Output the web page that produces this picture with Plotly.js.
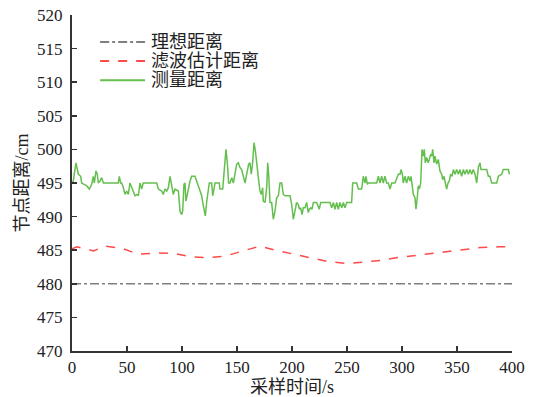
<!DOCTYPE html>
<html>
<head>
<meta charset="utf-8">
<script src="https://cdn.plot.ly/plotly-3.0.1.min.js"></script>
<style>
  html, body { margin: 0; padding: 0; background: #fff; }
  #chart { width: 540px; height: 397px; }
</style>
</head>
<body>
<div id="chart"></div>
<script>
// Series names
const seriesNames = ['理想距离', '滤波估计距离', '测量距离'];

// Ideal distance (constant)
const idealT = [0, 400];
const idealD = [480, 480];

// Kalman-filtered estimate
const filtT = [0, 4.5, 12, 19.6, 30, 45, 60, 78, 93.5, 109, 124, 139, 155.6, 170.8, 185, 196.5, 217.7, 232.8, 250.9, 266, 281, 296, 311, 326.5, 341.7, 356.8, 372, 388, 398];
const filtD = [485.2, 485.5, 485.2, 484.9, 485.6, 485.3, 484.4, 484.6, 484.5, 484.0, 483.9, 484.1, 484.9, 485.6, 485.0, 484.6, 483.8, 483.3, 483.0, 483.2, 483.5, 483.9, 484.2, 484.6, 484.9, 485.1, 485.4, 485.5, 485.5];

// Raw measured distance
const measT = [
  0, 1.2, 3.6, 5.8, 7.9, 8.8, 10.9, 13.3, 15.8, 17.9, 19.4, 20.3, 21.8, 23, 23.9, 25.5, 27, 28.5,
  42.1, 43, 44.2, 45.2, 46.7, 48.2, 49.7, 51.2, 52.7, 54.2, 55.8, 57.3, 58.8, 60.3, 61.8, 63.3, 64.8,
  77, 78.5, 81.5, 83, 84.5, 86.1, 87.6, 89.1, 90.6, 92.1, 93.6, 95.8, 96.7, 97.6, 98.2, 99.7, 100.6,
  101.8, 102.7, 103.6, 104.8, 105.8, 107.3, 108.8, 111.8, 113.3, 114.8, 116.4, 117.9, 118.8, 120.3,
  121.2, 122.4, 123.9, 124.8, 127, 127.9, 129.1, 130, 133.9, 134.5, 137, 138.2, 140, 141.2, 142.4,
  143.6, 145.2, 146.7, 148.2, 149.7, 151.2, 152.7, 154.2, 155.8, 157.3, 158.2, 159.4, 160.6, 161.8,
  163, 164.2, 165.5, 166.7, 167.9, 169.4, 170.9, 172.1, 173.3, 173.9, 175.5, 177, 177.9, 178.8, 180,
  181.5, 183, 184.5, 186.1, 187.6, 189.1, 190.6, 192.1, 193.6, 198.2, 199.7, 201.2, 202.7, 204.2,
  205.8, 206.7, 207.9, 209.1, 210.3, 211.8, 213.3, 214.8, 215.8, 217, 218.2, 219.4, 222.4, 223.9,
  224.8, 226.1, 234.5, 236.1, 237.6, 239.1, 240.6, 242.1, 243.6, 245.2, 246.7, 248.2, 249.7, 254.2,
  255.2, 258.8, 260.3, 263.3, 264.8, 266.4, 267.3, 268.5, 269.4, 277, 278.5, 280, 281.5, 283, 284.5,
  286.1, 287.6, 289.1, 290.6, 293.6, 296.7, 298.2, 299.1, 300.3, 301.2, 302.7, 304.2, 305.8, 307.3,
  308.2, 309.4, 310.3, 311.8, 312.7, 313.9, 314.8, 315.8, 317, 318.2, 319.4, 320.3, 321.2, 322.4,
  323.9, 324.8, 326.1, 327, 327.9, 329.1, 330, 331.5, 333, 334.5, 336.1, 337, 338.2, 339.4, 340.6,
  341.8, 343, 344.2, 345.5, 346.7, 348.2, 349.7, 351.2, 352.7, 354.2, 355.8, 357.3, 358.8, 360.3,
  361.8, 363.3, 364.8, 366.4, 367.9, 369.4, 370.9, 371.8, 373.9, 377, 378.5, 380, 381.5, 386.1, 387.6,
  390.6, 392.1, 396.7, 397.6
];
const measD = [
  495.0, 495.3, 498.0, 496.3, 496.0, 495.0, 494.8, 494.6, 494.1, 494.8, 496.0, 495.0, 496.8, 496.3, 495.0, 495.3, 495.8, 495.0,
  495.0, 496.0, 495.0, 495.0, 494.3, 493.3, 493.8, 493.3, 495.0, 494.3, 493.8, 493.1, 493.3, 493.1, 495.0, 494.1, 495.0,
  495.0, 494.1, 493.8, 493.3, 494.1, 493.8, 494.3, 496.0, 494.8, 493.3, 494.1, 493.8, 493.8, 492.1, 490.8, 490.3, 490.8,
  494.8, 495.0, 492.3, 493.6, 494.1, 495.3, 496.0, 496.0, 495.3, 494.3, 493.6, 493.1, 492.1, 490.8,
  490.1, 492.1, 494.1, 495.0, 495.0, 493.1, 494.1, 495.0, 495.0, 494.1, 494.1, 496.8, 500.0, 498.0, 495.0,
  495.0, 495.8, 495.0, 496.3, 497.8, 498.0, 497.3, 497.0, 496.0, 495.0, 495.8, 496.8, 497.8, 498.0,
  496.3, 498.0, 501.0, 499.8, 497.5, 495.8, 493.8, 493.3, 494.3, 492.3, 492.1, 494.3, 498.0, 496.3, 492.1,
  492.1, 489.6, 490.8, 492.8, 493.1, 495.0, 495.0, 493.3, 493.1, 493.1, 491.8, 489.6, 490.8, 492.1,
  491.8, 491.1, 491.3, 490.3, 491.3, 491.3, 492.1, 490.6, 491.1, 491.3, 491.1, 492.1, 492.1, 491.3,
  491.1, 492.1, 492.1, 491.3, 492.1, 491.1, 492.1, 491.1, 492.1, 491.3, 492.1, 491.3, 492.1, 492.1,
  495.0, 495.0, 494.1, 494.1, 496.0, 495.0, 496.0, 494.8, 495.0, 495.0, 496.0, 495.0, 496.0, 495.0, 496.0,
  495.0, 495.0, 494.1, 495.0, 495.0, 496.3, 496.3, 497.0, 496.3, 495.0, 496.0, 495.0, 496.0, 495.3,
  496.0, 494.8, 493.3, 492.8, 491.1, 492.8, 494.6, 494.1, 495.0, 500.0, 499.0, 500.0, 498.0, 498.8,
  498.0, 498.5, 499.3, 499.0, 500.0, 498.0, 499.0, 497.8, 498.5, 496.8, 496.3, 495.5, 496.0, 495.0, 494.1,
  495.0, 495.3, 496.3, 496.0, 497.0, 496.3, 497.0, 496.3, 497.0, 496.0, 497.0, 496.3, 497.0, 496.3,
  497.0, 496.3, 497.0, 496.3, 495.0, 497.3, 498.0, 497.0, 497.0, 497.0, 496.0, 496.0, 495.0, 495.0, 496.0,
  496.3, 497.0, 497.0, 496.3
];

// Axis ticks
const xTicks = [0, 50, 100, 150, 200, 250, 300, 350, 400];
const yTicks = [470, 475, 480, 485, 490, 495, 500, 505, 510, 515, 520];

const serif = 'Liberation Serif, Times New Roman, Tinos, DejaVu Serif, serif';
const cjk = 'Liberation Serif, Times New Roman, DejaVu Serif, Noto Sans CJK SC, serif';

const styles = [
  { color: '#7f7f7f', dash: 'dashdot', width: 1.6 },
  { color: '#ff4a4a', dash: 'dash', width: 1.5 },
  { color: '#64bf4f', dash: 'solid', width: 1.5 }
];

const traces = [
  { x: idealT, y: idealD },
  { x: filtT, y: filtD },
  { x: measT, y: measD }
].map((d, i) => ({
  x: d.x, y: d.y, type: 'scatter', mode: 'lines', name: seriesNames[i],
  line: { color: styles[i].color, dash: styles[i].dash, width: styles[i].width },
  showlegend: false, hoverinfo: 'skip'
}));

// Hand-placed legend block at the upper left of the plot area
const legendY = [0.92, 0.863, 0.806];
const legendShapes = seriesNames.map((n, i) => ({
  type: 'line', xref: 'paper', yref: 'paper',
  x0: 0.064, x1: 0.166, y0: legendY[i], y1: legendY[i],
  line: { color: styles[i].color, dash: styles[i].dash, width: 2 }
}));
const legendText = seriesNames.map((n, i) => ({
  xref: 'paper', yref: 'paper', x: 0.174, y: legendY[i],
  xanchor: 'left', yanchor: 'middle', showarrow: false,
  text: n, font: { family: cjk, size: 18, color: '#222' }
}));

const layout = {
  width: 540, height: 397,
  margin: { l: 72, r: 28, t: 15, b: 46 },
  paper_bgcolor: '#fff', plot_bgcolor: '#fff',
  showlegend: false,
  font: { family: serif },
  xaxis: {
    range: [0, 400], tickvals: xTicks, ticktext: xTicks.map(String),
    ticks: 'inside', ticklen: 5, tickwidth: 1.5, tickcolor: '#333',
    showline: true, linecolor: '#333', linewidth: 2, mirror: false,
    showgrid: false, zeroline: false,
    tickfont: { family: serif, size: 17, color: '#222' },
    title: { text: '采样时间/s', font: { family: cjk, size: 18, color: '#222' }, standoff: 2 }
  },
  yaxis: {
    range: [470, 520], tickvals: yTicks, ticktext: yTicks.map(String),
    ticks: 'inside', ticklen: 5, tickwidth: 1.5, tickcolor: '#333',
    showline: true, linecolor: '#333', linewidth: 2, mirror: false,
    showgrid: false, zeroline: false, ticklabelstandoff: 4,
    tickfont: { family: serif, size: 17, color: '#222' },
    title: { text: '节点距离/cm', font: { family: cjk, size: 18, color: '#222' }, standoff: 4 }
  },
  shapes: legendShapes,
  annotations: legendText
};

Plotly.newPlot('chart', traces, layout, { displayModeBar: false, staticPlot: true });
</script>
</body>
</html>
